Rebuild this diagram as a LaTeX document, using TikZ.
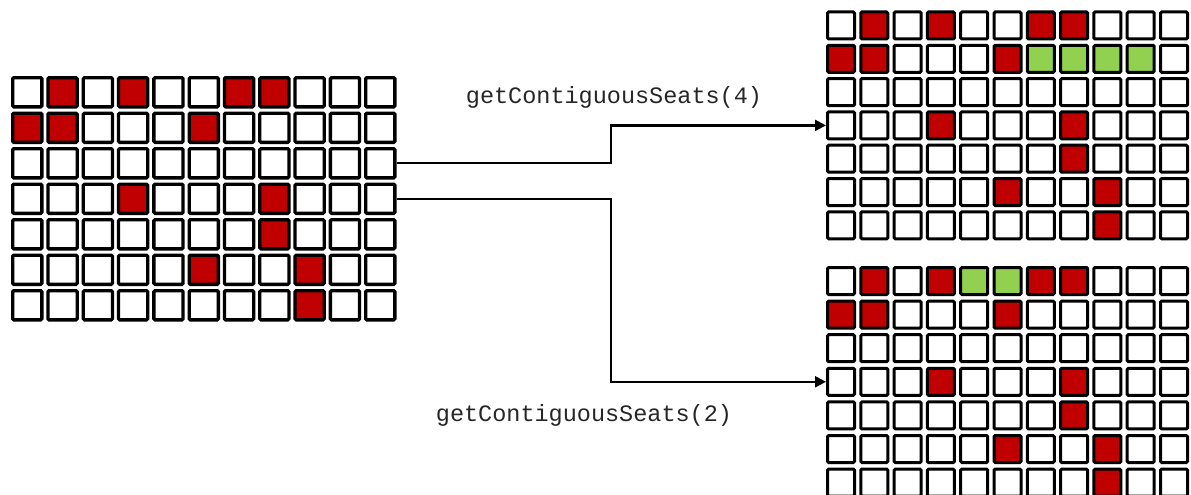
\documentclass[tikz,border=0pt]{standalone}
\usepackage{fontspec}
\setmonofont{Liberation Mono}
\usetikzlibrary{arrows.meta}
\definecolor{seatred}{HTML}{C00000}
\definecolor{seatgreen}{HTML}{92D050}

\tikzset{
  seat/.style={draw=black, fill=white, rounded corners=1.2pt, inner sep=0pt},
  bigseat/.style={seat, line width=3.3pt, minimum size=29.2pt},
  smallseat/.style={seat, line width=3pt, minimum size=27pt},
  taken/.style={fill=seatred},
  chosen/.style={fill=seatgreen},
  % seats already booked (row-column)
  base0-1/.style=taken, base0-3/.style=taken, base0-6/.style=taken, base0-7/.style=taken,
  base1-0/.style=taken, base1-1/.style=taken, base1-5/.style=taken,
  base3-3/.style=taken, base3-7/.style=taken,
  base4-7/.style=taken,
  base5-5/.style=taken, base5-8/.style=taken,
  base6-8/.style=taken,
  % seats picked by getContiguousSeats(4)
  four1-6/.style=chosen, four1-7/.style=chosen, four1-8/.style=chosen, four1-9/.style=chosen,
  % seats picked by getContiguousSeats(2)
  two0-4/.style=chosen, two0-5/.style=chosen,
  conn/.style={line width=2.2pt, -{Triangle[length=11pt,width=11pt]}},
  call/.style={font=\ttfamily\fontsize{23.5}{27}\selectfont, text=black!85, inner sep=0pt},
}

\begin{document}
\begin{tikzpicture}[x=1pt,y=-1pt]
\useasboundingbox (0,0) rectangle (1191,495);

% initial seating plan
\foreach \r in {0,...,6}
  \foreach \c in {0,...,10}
    \node[bigseat, base\r-\c/.try] (L-\r-\c) at ({27.25+35.3*\c},{92.25+35.5*\r}) {};

% plan after a request for four seats
\foreach \r in {0,...,6}
  \foreach \c in {0,...,10}
    \node[smallseat, base\r-\c/.try, four\r-\c/.try] (T-\r-\c) at ({841+33.3*\c},{25.5+33.3*\r}) {};

% plan after a request for two seats
\foreach \r in {0,...,6}
  \foreach \c in {0,...,10}
    \node[smallseat, base\r-\c/.try, two\r-\c/.try] (B-\r-\c) at ({841+33.3*\c},{281+33.6*\r}) {};

% elbow column for both connectors
\coordinate (elbow) at (611,0);

\draw[conn] (L-2-10.east) -- (L-2-10.east -| elbow) |- (T-3-0.west);
\draw[conn] (L-3-10.east) -- (L-3-10.east -| elbow) |- (B-3-0.west);

\node[call] (q4) at (614,97) {getContiguousSeats(4)};
\node[call] (q2) at (584,415) {getContiguousSeats(2)};
\end{tikzpicture}
\end{document}
